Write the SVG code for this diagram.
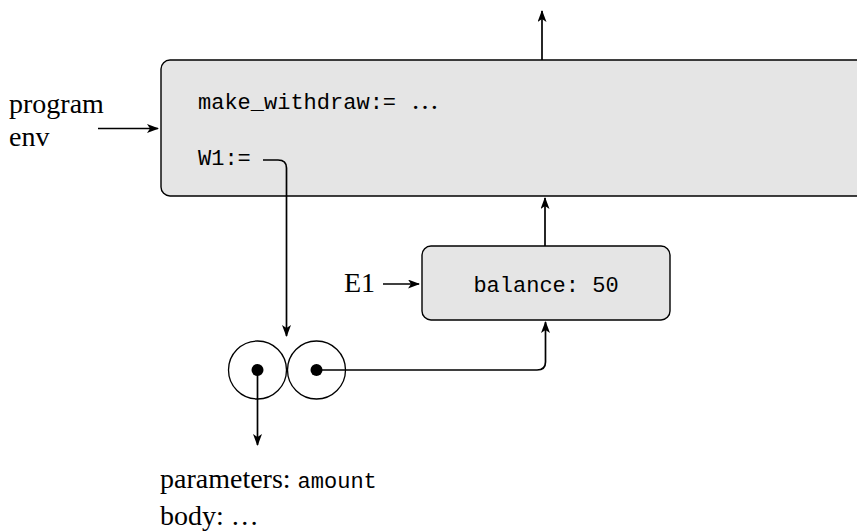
<svg xmlns="http://www.w3.org/2000/svg" width="857" height="532" viewBox="0 0 857 532">
<style>
.box{fill:#e5e5e5;stroke:#000;stroke-width:1.4}
.mono{font-family:"Liberation Mono","DejaVu Sans Mono",monospace;font-size:22px;fill:#000}
.serif{font-family:"Liberation Serif","DejaVu Serif",serif;font-size:28px;fill:#000}
.conn{fill:none;stroke:#000;stroke-width:1.7}
.circ{fill:none;stroke:#000;stroke-width:1.3}
</style>
<defs>
<marker id="arr" markerUnits="userSpaceOnUse" markerWidth="14" markerHeight="10" refX="11" refY="4.5" orient="auto">
<path d="M0,0 L12,4.5 L0,9 L3,4.5 z" fill="#000"/>
</marker>
</defs>
<g id="global-frame">
<rect class="box" x="161" y="60" width="720" height="136" rx="9"/>
<text class="mono" x="198" y="109">make_withdraw:=<tspan class="serif" x="411" y="109">…</tspan></text>
<text class="mono" x="198" y="165">W1:=</text>
</g>
<g id="program-env">
<text class="serif" x="9" y="113">program</text>
<text class="serif" x="9" y="146">env</text>
</g>
<g id="e1-frame">
<rect class="box" x="422" y="246" width="248" height="74" rx="9"/>
<text class="mono" x="546" y="292" text-anchor="middle">balance: 50</text>
</g>
<g id="e1-label">
<text class="serif" x="344" y="292">E1</text>
</g>
<g id="function-object">
<circle class="circ" cx="257.5" cy="370" r="29"/>
<circle class="circ" cx="316.5" cy="370" r="29"/>
<circle cx="257.5" cy="370" r="6" fill="#000"/>
<circle cx="316.5" cy="370" r="6" fill="#000"/>
</g>
<g id="function-text">
<text class="serif" x="160" y="488">parameters: <tspan class="mono">amount</tspan></text>
<text class="serif" x="160" y="525">body: …</text>
</g>
<g id="connectors">
<path class="conn" d="M542,60 V11" marker-end="url(#arr)"/>
<path class="conn" d="M98,128.5 H158" marker-end="url(#arr)"/>
<path class="conn" d="M263,160 H278 Q286.5,160 286.5,168 V336" marker-end="url(#arr)"/>
<path class="conn" d="M383,284 H419" marker-end="url(#arr)"/>
<path class="conn" d="M545,246 V198" marker-end="url(#arr)"/>
<path class="conn" d="M316.5,370 H537 Q545.5,370 545.5,362 V322" marker-end="url(#arr)"/>
<path class="conn" d="M257.5,370 V445" marker-end="url(#arr)"/>
</g>
</svg>
